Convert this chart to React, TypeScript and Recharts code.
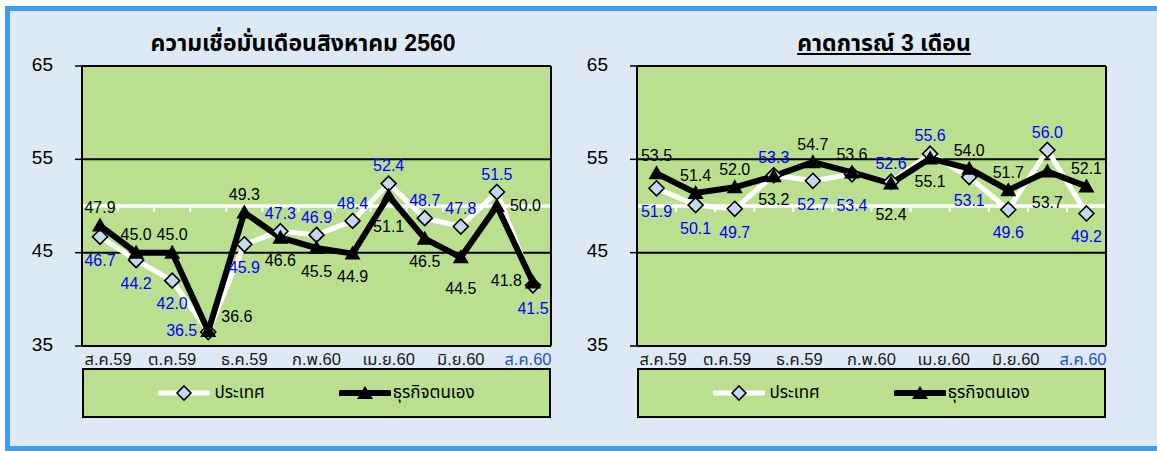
import { LineChart, Line, XAxis, YAxis, CartesianGrid, ReferenceLine, LabelList, Legend } from 'recharts'

const MONTHS = ['ส.ค.59', 'ก.ย.59', 'ต.ค.59', 'พ.ย.59', 'ธ.ค.59', 'ม.ค.60', 'ก.พ.60', 'มี.ค.60', 'เม.ย.60', 'พ.ค.60', 'มิ.ย.60', 'ก.ค.60', 'ส.ค.60']
const FORECAST_MONTHS = ['ก.ย.59', 'ต.ค.59', 'พ.ย.59', 'ธ.ค.59', 'ม.ค.60', 'ก.พ.60', 'มี.ค.60', 'เม.ย.60', 'พ.ค.60', 'มิ.ย.60', 'ก.ค.60', 'ส.ค.60']
const AXIS_LABEL_IDX = [0, 2, 4, 6, 8, 10, 12]
const Y_TICKS = [35, 45, 55, 65]

// current month confidence
const CUR_COUNTRY = [46.7, 44.2, 42.0, 36.5, 45.9, 47.3, 46.9, 48.4, 52.4, 48.7, 47.8, 51.5, 41.5]
const CUR_BUSINESS = [47.9, 45.0, 45.0, 36.6, 49.3, 46.6, 45.5, 44.9, 51.1, 46.5, 44.5, 50.0, 41.8]
// 3 month outlook
const FC_COUNTRY = [51.9, 50.1, 49.7, 53.3, 52.7, 53.4, 52.6, 55.6, 53.1, 49.6, 56.0, 49.2]
const FC_BUSINESS = [53.5, 51.4, 52.0, 53.2, 54.7, 53.6, 52.4, 55.1, 54.0, 51.7, 53.7, 52.1]

const NAME_COUNTRY = 'ประเทศ'
const NAME_BUSINESS = 'ธุรกิจตนเอง'

// label placement: a=above b=below B=far below l=left r=right R=right-up
const CUR_COUNTRY_POS = ['b', 'b', 'b', 'l', 'b', 'a', 'a', 'a', 'a', 'a', 'a', 'a', 'b']
const CUR_BUSINESS_POS = ['a', 'a', 'a', 'R', 'a', 'b', 'b', 'b', 'B', 'b', 'B', 'r', 'l']
const FC_COUNTRY_POS = ['b', 'b', 'b', 'a', 'b', 'B', 'a', 'a', 'b', 'b', 'a', 'b']
const FC_BUSINESS_POS = ['a', 'a', 'a', 'b', 'a', 'a', 'B', 'b', 'a', 'a', 'B', 'a']

const GREEN = '#badf8f'
const PAGE_BG = '#dde9f5'
const BORDER_BLUE = '#3d9bf2'
const FONT = "Tahoma, 'Liberation Sans', 'Noto Sans Thai', sans-serif"

const diamond = (p: any) => {
  const { cx, cy, index } = p
  if (cx == null || cy == null) return <g key={`d${index}`} />
  return (
    <path
      key={`d${index}`}
      d={`M${cx},${cy - 7.5}L${cx + 7.5},${cy}L${cx},${cy + 7.5}L${cx - 7.5},${cy}Z`}
      fill="#c6d9f1"
      stroke="#000"
      strokeWidth={1.6}
    />
  )
}

const triangle = (p: any) => {
  const { cx, cy, index } = p
  if (cx == null || cy == null) return <g key={`t${index}`} />
  return <path key={`t${index}`} d={`M${cx},${cy - 8}L${cx + 8},${cy + 6}L${cx - 8},${cy + 6}Z`} fill="#000" />
}

const labelAt = (pos: string[], color: string) => (p: any) => {
  const { x, y, value, index } = p
  const code = pos[index]
  let tx = x
  let dy = 0
  let anchor: 'middle' | 'start' | 'end' = 'middle'
  if (code === 'a') dy = -18
  else if (code === 'b') dy = 23
  else if (code === 'B') dy = 31
  else if (code === 'l') { tx = x - 11; anchor = 'end'; dy = -2 }
  else if (code === 'r') { tx = x + 13; anchor = 'start'; dy = -1 }
  else if (code === 'R') { tx = x + 13; anchor = 'start'; dy = -15 }
  return (
    <text key={`l${index}`} x={tx} y={y + dy + 5.7} textAnchor={anchor} fill={color} fontSize={16} fontFamily={FONT}>
      {Number(value).toFixed(1)}
    </text>
  )
}

// white line at 50 with small tick marks at category boundaries
const fiftyLine = (bands: number) => (p: any) => {
  const { x1, y1, x2 } = p
  const step = (x2 - x1) / bands
  return (
    <g>
      <line x1={x1} y1={y1} x2={x2} y2={y1} stroke="#fff" strokeWidth={3.5} />
      {Array.from({ length: bands + 1 }, (_, k) => (
        <line key={k} x1={x1 + k * step} x2={x1 + k * step} y1={y1} y2={y1 + 6} stroke="#fff" strokeWidth={2} />
      ))}
    </g>
  )
}

const MonthTick = (p: any) => {
  const { x, y, payload, index } = p
  const last = index === AXIS_LABEL_IDX.length - 1
  const dx = index === 0 ? 8 : last ? -5 : 0
  return (
    <text x={x + dx} y={y} dy="0.71em" textAnchor="middle" fontSize={16.5} fontFamily={FONT} fill={last ? '#2450d0' : '#1a1a1a'}>
      {MONTHS[payload.value]}
    </text>
  )
}

function LegendBox({ payload }: { payload?: any[] }) {
  const items = [...(payload ?? [])].sort((a, b) => (a.dataKey === 'country' ? -1 : b.dataKey === 'country' ? 1 : 0))
  return (
    <div
      style={{
        boxSizing: 'border-box', width: 469, height: 50, border: '2px solid #000', background: GREEN,
        display: 'flex', alignItems: 'center', justifyContent: 'center', gap: 74, fontSize: 17, fontFamily: FONT, color: '#000',
      }}
    >
      {items.map((it) => {
        const isCountry = it.dataKey === 'country'
        return (
          <span key={it.dataKey} style={{ display: 'flex', alignItems: 'center' }}>
            <svg width={52} height={18}>
              <line x1={2} x2={50} y1={9} y2={9} stroke={isCountry ? '#fff' : '#000'} strokeWidth={isCountry ? 5 : 6} strokeLinecap="round" />
              {isCountry
                ? <path d="M26,2L33,9L26,16L19,9Z" fill="#c6d9f1" stroke="#000" strokeWidth={1.6} />
                : <path d="M26,2L34,15L18,15Z" fill="#000" />}
            </svg>
            <span style={{ marginLeft: isCountry ? 4 : 2 }}>{it.value}</span>
          </span>
        )
      })}
    </div>
  )
}

function ConfidenceChart({
  categories, country, business, countryPos, businessPos, width, marginLeft, marginRight,
}: {
  categories: string[]
  country: number[]
  business: number[]
  countryPos: string[]
  businessPos: string[]
  width: number
  marginLeft: number
  marginRight: number
}) {
  const data = categories.map((m, i) => ({ m, i, country: country[i], business: business[i] }))
  const n = categories.length
  return (
    <LineChart width={width} height={451} data={data} margin={{ top: 66, right: marginRight, bottom: 85, left: marginLeft }}>
      <XAxis
        xAxisId="lbl"
        type="number"
        dataKey="i"
        domain={[-0.5, 12.5]}
        ticks={AXIS_LABEL_IDX}
        interval={0}
        allowDataOverflow
        axisLine={false}
        tickLine={false}
        tickSize={0}
        tickMargin={7}
        height={20}
        tick={<MonthTick />}
      />
      <XAxis xAxisId="d" type="number" dataKey="i" domain={[-0.5, n - 0.5]} allowDataOverflow height={0} hide />
      <YAxis
        yAxisId="l"
        domain={[35, 65]}
        ticks={Y_TICKS}
        interval={0}
        width={62}
        tickSize={7}
        tickMargin={22}
        axisLine={{ stroke: '#000', strokeWidth: 2 }}
        tickLine={{ stroke: '#000', strokeWidth: 1.5 }}
        tick={{ fontSize: 19, fill: '#000', fontFamily: FONT, dy: -2 }}
      />
      <YAxis yAxisId="r" orientation="right" domain={[35, 65]} ticks={Y_TICKS} width={2} tick={false} tickLine={false} axisLine={{ stroke: '#000', strokeWidth: 2 }} />
      <CartesianGrid xAxisId="d" yAxisId="l" vertical={false} stroke="#000" strokeWidth={2} fill={GREEN} fillOpacity={1} />
      <ReferenceLine xAxisId="d" yAxisId="l" y={50} shape={fiftyLine(n)} />
      <Legend
        verticalAlign="middle"
        align="center"
        layout="horizontal"
        wrapperStyle={{ left: marginLeft + 62, top: 368, width: 469, height: 50 }}
        content={(props: any) => <LegendBox payload={props.payload} />}
      />
      <Line
        xAxisId="d"
        yAxisId="l"
        dataKey="country"
        name={NAME_COUNTRY}
        stroke="#fff"
        strokeWidth={5}
        dot={diamond}
        activeDot={false}
        isAnimationActive={false}
      >
        <LabelList dataKey="country" content={labelAt(countryPos, '#0000ff')} />
      </Line>
      <Line
        xAxisId="d"
        yAxisId="l"
        dataKey="business"
        name={NAME_BUSINESS}
        stroke="#000"
        strokeWidth={6}
        dot={triangle}
        activeDot={false}
        isAnimationActive={false}
      >
        <LabelList dataKey="business" content={labelAt(businessPos, '#000')} />
      </Line>
    </LineChart>
  )
}

export default function App() {
  return (
    <div style={{ position: 'absolute', left: 0, top: 0, width: 1157, height: 451, background: '#fff', overflow: 'hidden', fontFamily: FONT }}>
      <div
        style={{
          position: 'absolute', left: 5, top: 6, width: 1170, height: 445, boxSizing: 'border-box',
          borderLeft: `5px solid ${BORDER_BLUE}`, borderTop: `5px solid ${BORDER_BLUE}`, borderBottom: `5px solid ${BORDER_BLUE}`,
          background: PAGE_BG,
        }}
      />
      <div style={{ position: 'absolute', left: 3, top: 28, width: 600, textAlign: 'center', fontSize: 23, fontWeight: 'bold', lineHeight: '30px', color: '#000' }}>
        ความเชื่อมั่นเดือนสิงหาคม 2560
      </div>
      <div style={{ position: 'absolute', left: 584, top: 28, width: 600, textAlign: 'center', fontSize: 23, fontWeight: 'bold', lineHeight: '30px', color: '#000', textDecoration: 'underline' }}>
        คาดการณ์ 3 เดือน
      </div>
      <div style={{ position: 'absolute', left: 0, top: 0 }}>
        <ConfidenceChart
          categories={MONTHS}
          country={CUR_COUNTRY}
          business={CUR_BUSINESS}
          countryPos={CUR_COUNTRY_POS}
          businessPos={CUR_BUSINESS_POS}
          width={570}
          marginLeft={20}
          marginRight={17}
        />
      </div>
      <div style={{ position: 'absolute', left: 570, top: 0 }}>
        <ConfidenceChart
          categories={FORECAST_MONTHS}
          country={FC_COUNTRY}
          business={FC_BUSINESS}
          countryPos={FC_COUNTRY_POS}
          businessPos={FC_BUSINESS_POS}
          width={587}
          marginLeft={5}
          marginRight={49}
        />
      </div>
    </div>
  )
}
